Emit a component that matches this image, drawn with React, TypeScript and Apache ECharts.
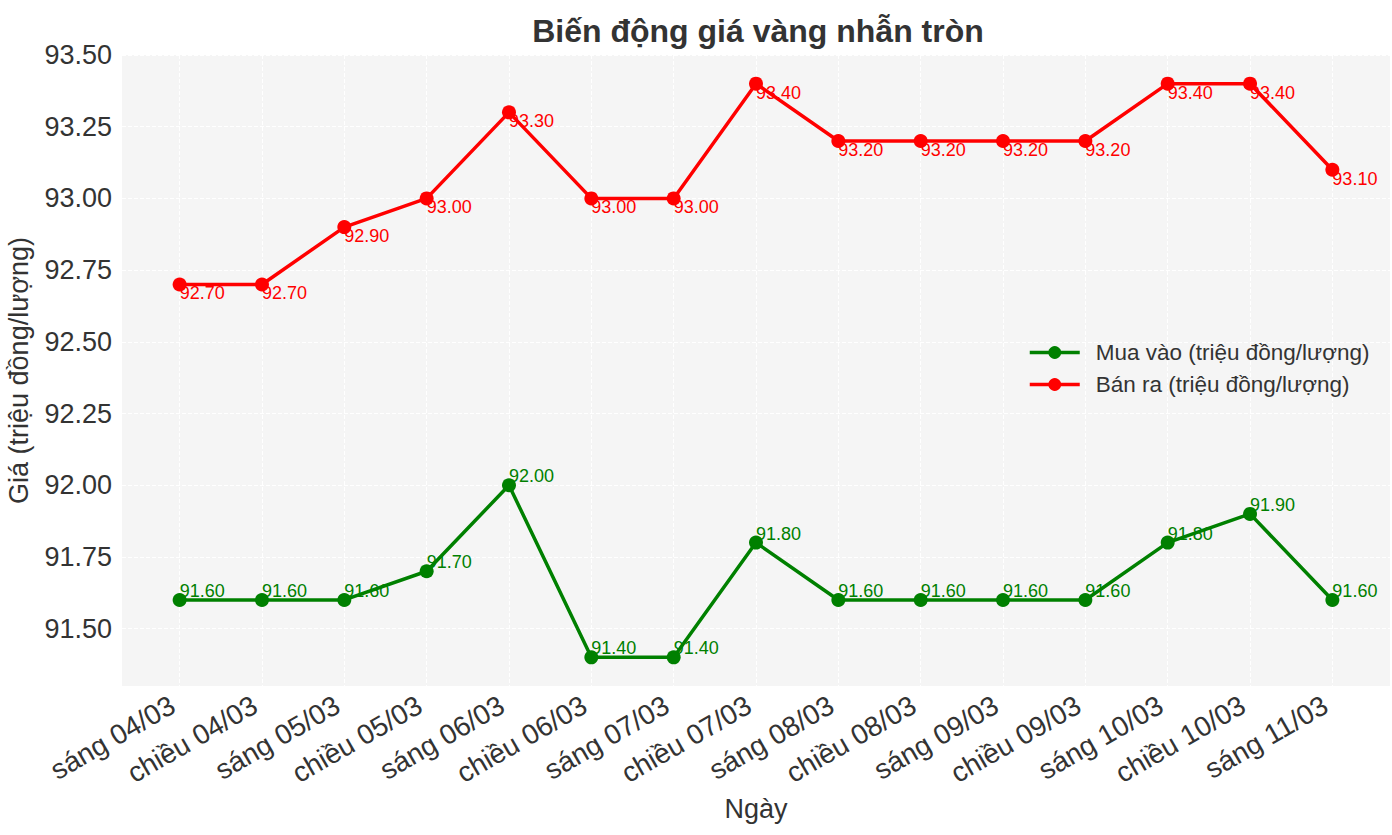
import React, { useEffect, useRef } from "react";
import * as echarts from "echarts";

const categories = [
  "sáng 04/03", "chiều 04/03", "sáng 05/03", "chiều 05/03", "sáng 06/03",
  "chiều 06/03", "sáng 07/03", "chiều 07/03", "sáng 08/03", "chiều 08/03",
  "sáng 09/03", "chiều 09/03", "sáng 10/03", "chiều 10/03", "sáng 11/03",
];
const buyValues = [91.6, 91.6, 91.6, 91.7, 92.0, 91.4, 91.4, 91.8, 91.6, 91.6, 91.6, 91.6, 91.8, 91.9, 91.6];
const sellValues = [92.7, 92.7, 92.9, 93.0, 93.3, 93.0, 93.0, 93.4, 93.2, 93.2, 93.2, 93.2, 93.4, 93.4, 93.1];
const yTicks = [91.5, 91.75, 92.0, 92.25, 92.5, 92.75, 93.0, 93.25, 93.5];

const FONT = "'Liberation Sans', Arial, sans-serif";

export default function App() {
  const ref = useRef<HTMLDivElement>(null);
  useEffect(() => {
    document.body.style.margin = "0";
    const chart = echarts.init(ref.current!, null, { renderer: "svg" });
    const xIdx = categories.map((_, i) => i);
    const mk = (name: string, vals: number[], color: string, above: boolean) => ({
      name,
      type: "line",
      data: vals.map((v, i) => [i, v]),
      symbol: "circle",
      symbolSize: 14,
      lineStyle: { color, width: 3.5 },
      itemStyle: { color },
      label: {
        show: true,
        position: "inside",
        align: "left",
        verticalAlign: above ? "bottom" : "top",
        formatter: (p: any) => p.value[1].toFixed(2),
        color,
        fontSize: 18,
        fontFamily: FONT,
      },
      z: 3,
    });
    chart.setOption({
      animation: false,
      backgroundColor: "#ffffff",
      textStyle: { fontFamily: FONT },
      title: {
        text: "Biến động giá vàng nhẫn tròn",
        left: 753,
        textAlign: "center",
        top: 10,
        textStyle: { fontSize: 32, fontWeight: "bold", color: "#333333", fontFamily: FONT },
      },
      legend: {
        orient: "vertical",
        left: 1023,
        top: 336,
        itemWidth: 50,
        itemHeight: 16,
        itemGap: 9,
        lineStyle: { width: 3.5 },
        textStyle: { fontSize: 22.5, color: "#333333", fontFamily: FONT, padding: [0, 0, 0, 11] },
        data: ["Mua vào (triệu đồng/lượng)", "Bán ra (triệu đồng/lượng)"],
      },
      grid: {
        left: 122,
        right: 2,
        top: 55,
        bottom: 149,
        show: true,
        backgroundColor: "#f5f5f5",
        borderWidth: 0,
        outerBoundsMode: "none",
        containLabel: false,
      },
      xAxis: {
        type: "value",
        min: -0.7,
        max: 14.7,
        name: "Ngày",
        nameLocation: "middle",
        nameGap: 109,
        nameTextStyle: { fontSize: 27, color: "#333333", fontFamily: FONT },
        axisLine: { show: false },
        axisTick: { show: false, customValues: xIdx },
        axisLabel: {
          customValues: xIdx,
          rotate: 30,
          margin: 13,
          padding: [0, 8, 0, 0],
          fontSize: 28,
          color: "#333333",
          fontFamily: FONT,
          formatter: (v: number) => categories[Math.round(v)] ?? "",
        },
        splitLine: { show: true, lineStyle: { color: "#ffffff", type: "dashed", width: 1 } },
      },
      yAxis: {
        type: "value",
        min: 91.3,
        max: 93.5,
        name: "Giá (triệu đồng/lượng)",
        nameLocation: "middle",
        nameGap: 90,
        nameTextStyle: { fontSize: 27, color: "#333333", fontFamily: FONT },
        axisLine: { show: false },
        axisTick: { show: false, customValues: yTicks },
        axisLabel: {
          customValues: yTicks,
          margin: 10,
          fontSize: 27,
          color: "#333333",
          fontFamily: FONT,
          formatter: (v: number) => v.toFixed(2),
        },
        splitLine: { show: true, lineStyle: { color: "#ffffff", type: "dashed", width: 1 } },
      },
      series: [
        mk("Mua vào (triệu đồng/lượng)", buyValues, "#008000", true),
        mk("Bán ra (triệu đồng/lượng)", sellValues, "#ff0000", false),
      ],
    });
    return () => chart.dispose();
  }, []);
  return <div ref={ref} style={{ width: 1392, height: 835 }} />;
}
